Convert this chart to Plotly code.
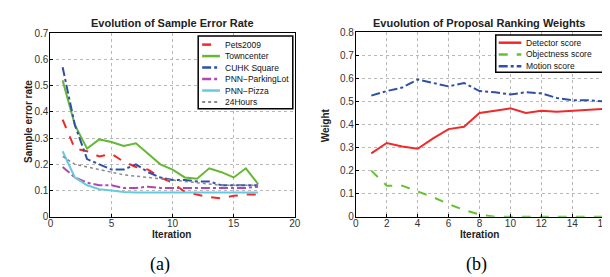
import plotly.graph_objects as go

# ---- data: left chart (a) ----
iter_a = list(range(1, 18))
pets2009 = [0.37, 0.26, 0.25, 0.23, 0.24, 0.21, 0.19, 0.18, 0.15, 0.13, 0.095, 0.085, 0.075, 0.07, 0.08, 0.085, 0.085]
towncenter = [0.52, 0.35, 0.26, 0.295, 0.285, 0.27, 0.28, 0.24, 0.20, 0.18, 0.15, 0.145, 0.185, 0.17, 0.15, 0.185, 0.125]
cuhk = [0.57, 0.35, 0.22, 0.20, 0.18, 0.18, 0.20, 0.17, 0.15, 0.14, 0.14, 0.135, 0.135, 0.12, 0.12, 0.12, 0.12]
parking = [0.19, 0.15, 0.13, 0.12, 0.12, 0.11, 0.11, 0.115, 0.11, 0.11, 0.11, 0.11, 0.11, 0.11, 0.11, 0.11, 0.115]
pizza = [0.25, 0.15, 0.12, 0.105, 0.10, 0.095, 0.093, 0.093, 0.093, 0.093, 0.093, 0.093, 0.093, 0.093, 0.093, 0.093, 0.093]
hours24 = [0.23, 0.20, 0.19, 0.18, 0.17, 0.16, 0.155, 0.15, 0.145, 0.14, 0.135, 0.13, 0.125, 0.12, 0.12, 0.12, 0.12]

# ---- data: right chart (b) ----
iter_b = list(range(1, 17))
detector = [0.275, 0.32, 0.305, 0.295, 0.34, 0.38, 0.39, 0.45, 0.46, 0.47, 0.45, 0.46, 0.455, 0.46, 0.462, 0.467]
objectness = [0.20, 0.135, 0.135, 0.11, 0.085, 0.055, 0.03, 0.01, 0.0, 0.0, 0.0, 0.0, 0.0, 0.0, 0.0, 0.0]
motion = [0.525, 0.545, 0.56, 0.595, 0.58, 0.565, 0.58, 0.545, 0.54, 0.53, 0.54, 0.535, 0.515, 0.505, 0.505, 0.50]

FONT = "Liberation Sans, Arial, sans-serif"
SERIF = "Liberation Serif, Times New Roman, serif"
W, H = 610, 277

def px_x(p):
    return p / W

def px_y(p):
    return 1 - p / H

series_a = [
    ("Pets2009", pets2009, "#ee2a2a", "dash", 2),
    ("Towncenter", towncenter, "#66b833", "solid", 2),
    ("CUHK Square", cuhk, "#3050a8", "dashdot", 2),
    ("PNN\u2212ParkingLot", parking, "#b048b0", "dashdot", 2),
    ("PNN\u2212Pizza", pizza, "#66ccdd", "solid", 2),
    ("24Hours", hours24, "#8a8a8a", "dot", 1.5),
]
series_b = [
    ("Detector score", detector, "#ee2a2a", "solid", 2),
    ("Objectness score", objectness, "#66c033", "dash", 2),
    ("Motion score", motion, "#3050a8", "dashdot", 2),
]

fig = go.Figure()
for name, ys, color, dash, wd in series_a:
    fig.add_trace(go.Scatter(x=iter_a, y=ys, name=name, mode="lines",
                             line=dict(color=color, dash=dash, width=wd),
                             xaxis="x", yaxis="y", showlegend=False))
for name, ys, color, dash, wd in series_b:
    fig.add_trace(go.Scatter(x=iter_b, y=ys, name=name, mode="lines",
                             line=dict(color=color, dash=dash, width=wd),
                             xaxis="x2", yaxis="y2", showlegend=False))

axis_common = dict(showline=True, mirror=True, linecolor="black", linewidth=1,
                   ticks="inside", ticklen=3, tickcolor="black",
                   showgrid=True, gridcolor="#b8b8b8", griddash="dot", gridwidth=1,
                   zeroline=False, tickfont=dict(family=FONT, size=10, color="#333"))

fig.update_layout(
    width=W, height=H, margin=dict(l=0, r=0, t=0, b=0),
    plot_bgcolor="white", paper_bgcolor="white", showlegend=False,
    xaxis=dict(domain=[px_x(40), px_x(288)], range=[0, 20], tickvals=[0, 5, 10, 15, 20],
               anchor="y", ticklabelstandoff=-3, **axis_common),
    yaxis=dict(domain=[px_y(212), px_y(20)], range=[0, 0.7],
               tickvals=[0, 0.1, 0.2, 0.3, 0.4, 0.5, 0.6, 0.7], anchor="x",
               ticklabelstandoff=-1, **axis_common),
    xaxis2=dict(domain=[px_x(350), px_x(601)], range=[0, 16], tickvals=list(range(0, 17, 2)),
                anchor="y2", ticklabelstandoff=-3, **axis_common),
    yaxis2=dict(domain=[px_y(212), px_y(19)], range=[0, 0.8],
                tickvals=[0, 0.1, 0.2, 0.3, 0.4, 0.5, 0.6, 0.7, 0.8], anchor="x2",
                ticklabelstandoff=-1, **axis_common),
)

ann = []
shapes = []

def text(x, y, t, size, bold=True, angle=0, family=FONT, xanchor="center", color="#222"):
    ann.append(dict(x=px_x(x), y=px_y(y), xref="paper", yref="paper",
                    text=(f"<b>{t}</b>" if bold else t),
                    showarrow=False, textangle=angle, xanchor=xanchor, yanchor="middle",
                    font=dict(family=family, size=size, color=color)))

def legend_box(series, x0, y0, x1, y1, first_y, step, line_x0, line_x1, text_x):
    shapes.append(dict(type="rect", xref="paper", yref="paper",
                       x0=px_x(x0), x1=px_x(x1), y0=px_y(y1), y1=px_y(y0),
                       line=dict(color="black", width=1.5), fillcolor="white", layer="above"))
    for i, (name, _ys, color, dash, wd) in enumerate(series):
        yy = first_y + i * step
        shapes.append(dict(type="line", xref="paper", yref="paper",
                           x0=px_x(line_x0), x1=px_x(line_x1), y0=px_y(yy), y1=px_y(yy),
                           line=dict(color=color, dash=dash, width=wd + 0.5), layer="above"))
        text(text_x, yy, name, 8.5, bold=False, xanchor="left", color="#111")

legend_box(series_a, 190, 23, 286, 99, 32, 12, 194, 212, 215)
legend_box(series_b, 492, 22, 601, 61, 30, 12.3, 495, 518, 521)

text(164, 9, "Evolution of Sample Error Rate", 11)
text(475, 9, "Evuolution of Proposal Ranking Weights", 11)
text(163, 230, "Iteration", 10)
text(476, 230, "Iteration", 10)
text(17, 112, "Sample error rate", 10, angle=-90)
text(320, 116, "Weight", 10, angle=-90)
text(151, 262, "(a)", 18, bold=False, family=SERIF, color="#000")
text(472, 262, "(b)", 18, bold=False, family=SERIF, color="#000")
fig.update_layout(annotations=ann, shapes=shapes)

fig.write_html("out.html")
